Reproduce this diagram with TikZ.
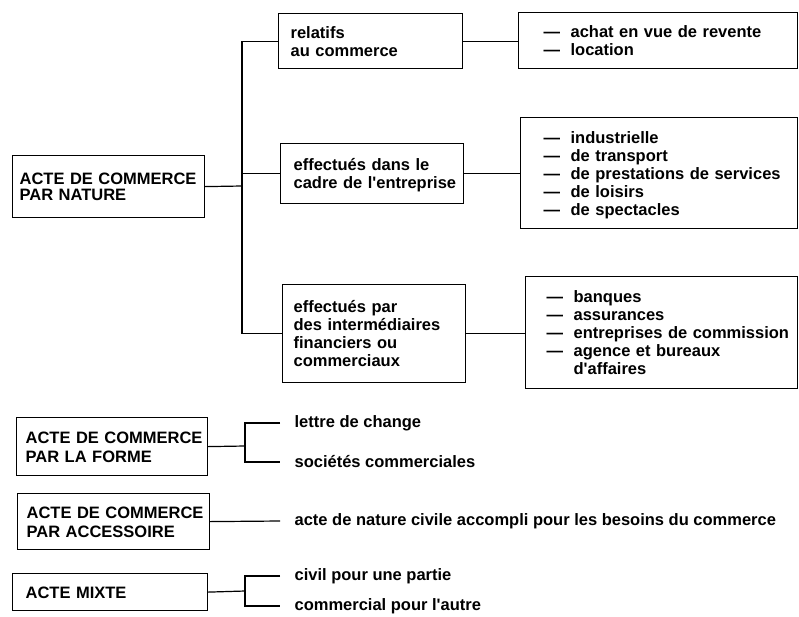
\documentclass[tikz,border=0pt]{standalone}
\usepackage{fontspec}
\setmainfont{Liberation Sans}
\newcommand\itm{\makebox[27pt][l]{\textemdash}}
\newcommand\inlines[2]{\hspace*{#1}\raisebox{0pt}[\dimexpr\height+5pt\relax][\depth]{\begin{tabular}{@{}l@{}}#2\end{tabular}}}
\newcommand\q{\textquotesingle}
\begin{document}
\begin{tikzpicture}
      [   x=1pt, y=-1pt, line width=1.2pt,
          box/.style={draw, anchor=north west, align=left, inner xsep=3pt, inner ysep=0pt,
                      font=\bfseries\fontsize{16.5}{#1}\selectfont},
          box/.default=18,
          leaf/.style={anchor=west, inner xsep=14pt, inner ysep=0pt,
                       font=\bfseries\fontsize{16.5}{18}\selectfont},
      ]
          \useasboundingbox (0,0) rectangle (799,616);
          % acte de commerce par nature
          \node[box=16,text width=186pt,minimum height=62pt] (nat) at (12,155)
               {\inlines{4pt}{ACTE DE COMMERCE\\PAR NATURE}};
          \node[box,text width=178pt,minimum height=55pt] (rel) at (278,13)
               {\inlines{9pt}{relatifs\\au commerce}};
          \node[box,text width=177pt,minimum height=60pt] (ent) at (280,143)
               {\inlines{10pt}{effectués dans le\\cadre de l\q entreprise}};
          \node[box,text width=177pt,minimum height=98pt] (int) at (282,284)
               {\inlines{8pt}{effectués par\\des intermédiaires\\financiers ou\\commerciaux}};
          \node[box,text width=273pt,minimum height=56pt] (lst1) at (518,12)
               {\inlines{22pt}{\itm achat en vue de revente\\\itm location}};
          \node[box,text width=271pt,minimum height=111pt] (lst2) at (520,117)
               {\inlines{20pt}{\itm industrielle\\\itm de transport\\\itm de prestations de services\\
                \itm de loisirs\\\itm de spectacles}};
          \node[box,text width=266pt,minimum height=112pt] (lst3) at (525,276)
               {\inlines{18pt}{\itm banques\\\itm assurances\\\itm entreprises de commission\\
                \itm agence et bureaux\\\hspace*{27pt}d\q affaires}};
          \coordinate (spine) at (242,186);
          \draw (nat.east) -- (spine);
          \draw (rel.west) -| (spine) |- (int.west);
          \draw (ent.west) -- (ent.west -| spine);
          \foreach \m/\l in {rel/lst1,ent/lst2,int/lst3}
              \draw (\m.east) -- (\m.east -| \l.west);
          % par la forme
          \node[box=19,text width=185pt,minimum height=58pt] (forme) at (16,417)
               {\inlines{6pt}{ACTE DE COMMERCE\\PAR LA FORME}};
          \node[leaf] (lettre) at (280,423) {lettre de change};
          \node[leaf] (soc) at (280,462) {sociétés commerciales};
          \coordinate (fj) at (245,446);
          \draw (forme.east) -- (fj);
          \draw (lettre.west) -| (fj) |- (soc.west);
          % par accessoire
          \node[box=19,text width=186pt,minimum height=56pt] (acc) at (17,493)
               {\inlines{6pt}{ACTE DE COMMERCE\\PAR ACCESSOIRE}};
          \node[leaf] (civile) at (280,521) {acte de nature civile accompli pour les besoins du commerce};
          \draw (acc.east) -- (civile.west);
          % acte mixte
          \node[box,text width=189pt,minimum height=37pt] (mixte) at (12,573)
               {\inlines{10pt}{ACTE MIXTE}};
          \node[leaf] (civil) at (280,576) {civil pour une partie};
          \node[leaf] (comm) at (280,606) {commercial pour l\q autre};
          \coordinate (mj) at (245,591);
          \draw (mixte.east) -- (mj);
          \draw (civil.west) -| (mj) |- (comm.west);
    \end{tikzpicture}
\end{document}
